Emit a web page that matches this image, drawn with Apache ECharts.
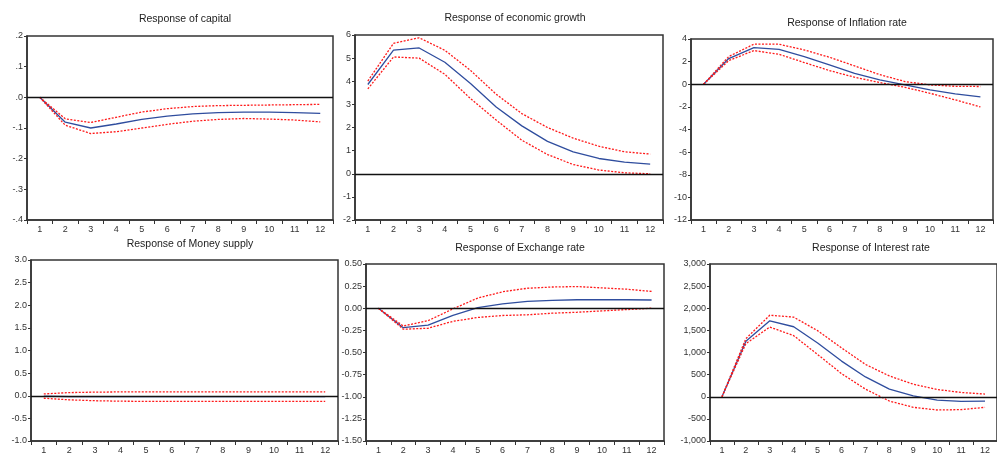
<!DOCTYPE html>
<html><head><meta charset="utf-8">
<script src="https://cdn.jsdelivr.net/npm/echarts@6/dist/echarts.min.js"></script>
<style>html,body{margin:0;padding:0;background:#fff;}#c{width:997px;height:455px;}</style>
</head><body><div id="c"></div>
<script>
const periods = ['1','2','3','4','5','6','7','8','9','10','11','12'];
const titles = ['Response of capital','Response of economic growth','Response of Inflation rate','Response of Money supply','Response of Exchange rate','Response of Interest rate'];

const capitalMid = [0,-0.081,-0.100,-0.087,-0.072,-0.061,-0.054,-0.050,-0.048,-0.048,-0.050,-0.052];
const capitalUp  = [0,-0.070,-0.082,-0.065,-0.048,-0.037,-0.030,-0.027,-0.026,-0.025,-0.024,-0.023];
const capitalLo  = [0,-0.091,-0.118,-0.112,-0.100,-0.088,-0.078,-0.072,-0.069,-0.071,-0.074,-0.080];

const growthMid = [3.86,5.35,5.44,4.82,3.90,2.89,2.07,1.40,0.95,0.66,0.50,0.42];
const growthUp  = [4.01,5.64,5.88,5.34,4.47,3.44,2.60,2.00,1.54,1.19,0.95,0.85];
const growthLo  = [3.67,5.05,5.00,4.30,3.25,2.32,1.45,0.83,0.40,0.16,0.04,0.00];

const inflMid = [0,2.27,3.24,3.09,2.45,1.71,0.97,0.38,-0.06,-0.50,-0.85,-1.12];
const inflUp  = [0,2.45,3.54,3.54,3.03,2.39,1.62,0.85,0.24,-0.06,-0.18,-0.20];
const inflLo  = [0,2.09,2.98,2.65,1.92,1.21,0.62,0.15,-0.27,-0.80,-1.38,-2.00];

const moneyMid = [-0.01,-0.02,-0.02,-0.02,-0.02,-0.02,-0.02,-0.02,-0.02,-0.02,-0.02,-0.02];
const moneyUp  = [0.04,0.07,0.08,0.085,0.085,0.085,0.085,0.085,0.085,0.085,0.085,0.085];
const moneyLo  = [-0.055,-0.09,-0.11,-0.12,-0.125,-0.125,-0.125,-0.125,-0.125,-0.125,-0.125,-0.125];

const exchMid = [0,-0.22,-0.19,-0.08,0.007,0.05,0.078,0.09,0.096,0.096,0.096,0.093];
const exchUp  = [0,-0.20,-0.14,-0.007,0.115,0.186,0.226,0.24,0.245,0.23,0.215,0.19];
const exchLo  = [0,-0.237,-0.226,-0.148,-0.104,-0.082,-0.074,-0.056,-0.045,-0.03,-0.015,0.0];

const rateMid = [0,1254,1716,1582,1216,806,448,172,22,-75,-104,-97];
const rateUp  = [0,1313,1843,1799,1493,1104,731,470,284,164,97,60];
const rateLo  = [0,1201,1575,1381,955,522,172,-97,-239,-299,-291,-239];

const yMins = [-0.4,-2,-12,-1.0,-1.5,-1000];
const yMaxs = [0.2,6,4,3.0,0.5,3000];
const yInts = [0.1,1,2,0.5,0.25,500];

const panels = [
  [capitalMid,capitalUp,capitalLo],
  [growthMid,growthUp,growthLo],
  [inflMid,inflUp,inflLo],
  [moneyMid,moneyUp,moneyLo],
  [exchMid,exchUp,exchLo],
  [rateMid,rateUp,rateLo]
];

const fmts = [
  v => { const s = v.toFixed(1); return s.replace(/^(-?)0\./,'$1.'); },
  v => String(Math.round(v)),
  v => String(Math.round(v)),
  v => v.toFixed(1),
  v => v.toFixed(2),
  v => Math.round(v).toLocaleString('en-US')
];

const grids = [
  {left:27, top:36, width:306, height:184},
  {left:355, top:35, width:308, height:185},
  {left:691, top:39, width:302, height:181},
  {left:31, top:260, width:307, height:183},
  {left:366, top:264, width:298, height:179},
  {left:710, top:264, width:300, height:178}
];
const titlePos = [[180,9],[510,8],[842,13],[185,234],[515,238],[866,238]];

const FONT = 'Liberation Sans, Arial, sans-serif';
const option = {
  animation:false,
  backgroundColor:'#fff',
  title: titles.map((t,i)=>({text:t, left:titlePos[i][0], top:titlePos[i][1], textAlign:'center',
    textStyle:{fontSize:10.5, fontWeight:'normal', color:'#222', fontFamily:FONT}})),
  grid: grids.map(g=>Object.assign({show:true, borderColor:'#333', borderWidth:1.5, backgroundColor:'#fff'}, g)),
  xAxis: grids.map((g,i)=>({type:'category', gridIndex:i, data:periods, boundaryGap:true,
    axisLine:{show:true, onZero:false, lineStyle:{color:'#333', width:1.5}},
    axisTick:{show:true, inside:false, length:4, lineStyle:{color:'#333'}},
    axisLabel:{fontSize:9, color:'#333', fontFamily:FONT, margin:5, interval:0},
    splitLine:{show:false}})),
  yAxis: grids.map((g,i)=>({type:'value', gridIndex:i, min:yMins[i], max:yMaxs[i], interval:yInts[i],
    axisLine:{show:true, onZero:false, lineStyle:{color:'#333', width:1.5}},
    axisTick:{show:true, length:3, lineStyle:{color:'#333'}},
    axisLabel:{fontSize:9, color:'#333', fontFamily:FONT, margin:4, formatter:fmts[i]},
    splitLine:{show:false}})),
  series: []
};
panels.forEach((p,i)=>{
  option.series.push({type:'line', xAxisIndex:i, yAxisIndex:i, data:p[0], symbol:'none',
    lineStyle:{color:'#2f4d9e', width:1.3}, z:3,
    markLine:{silent:true, symbol:'none', label:{show:false},
      lineStyle:{color:'#111', width:1.3, type:'solid'}, data:[{yAxis:0}]}});
  option.series.push({type:'line', xAxisIndex:i, yAxisIndex:i, data:p[1], symbol:'none',
    lineStyle:{color:'#ff1a1a', width:1.3, type:[2,1.5]}, z:4});
  option.series.push({type:'line', xAxisIndex:i, yAxisIndex:i, data:p[2], symbol:'none',
    lineStyle:{color:'#ff1a1a', width:1.3, type:[2,1.5]}, z:4});
});
const chart = echarts.init(document.getElementById('c'), null, {renderer:'canvas'});
chart.setOption(option);
</script>
</body></html>
